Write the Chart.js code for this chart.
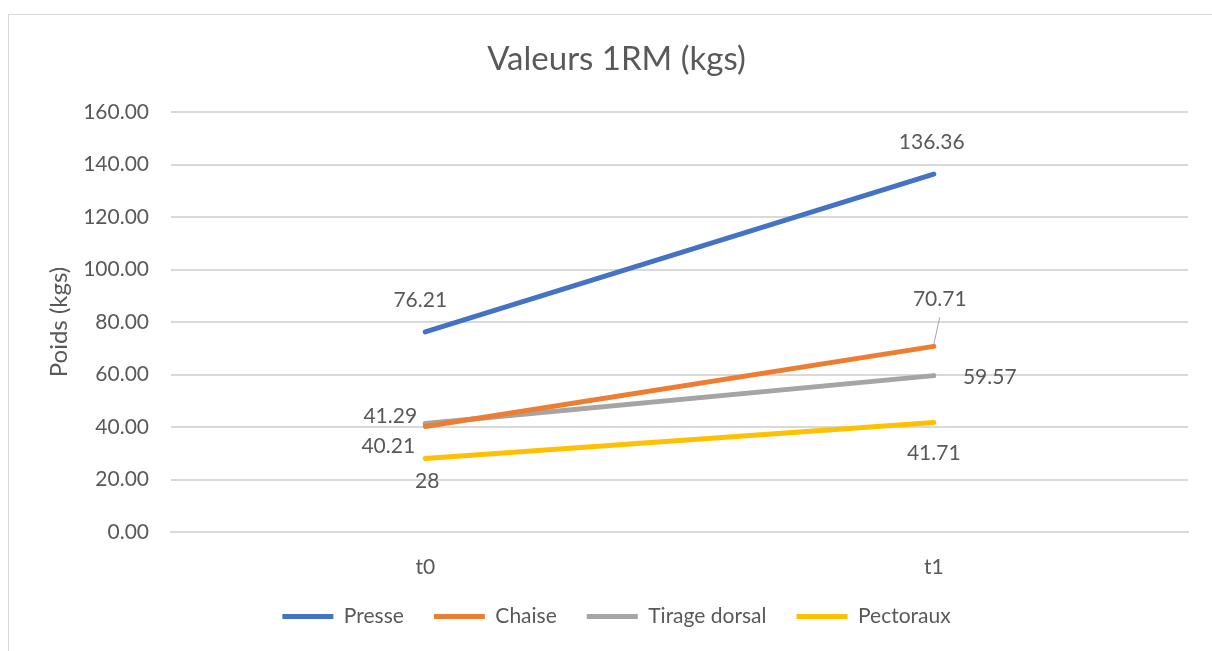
<!DOCTYPE html>
<html>
<head>
<meta charset="utf-8">
<script src="https://cdn.jsdelivr.net/npm/chart.js@4/dist/chart.umd.min.js"></script>
<style>
  html, body { margin: 0; padding: 0; background: #fff; overflow: hidden; }
  #frame { position: absolute; left: 8px; top: 14px; width: 1240px; height: 700px; border: 1px solid #d9d9d9; }
  #wrap { position: absolute; left: 0; top: 0; width: 1212px; height: 651px; }
</style>
</head>
<body>
<div id="frame"></div>
<div id="wrap"><canvas id="chart"></canvas></div>
<script>
// ── données ──
const categories = ['t0', 't1'];
const presse     = [76.21, 136.36];
const chaise     = [40.21, 70.71];
const tirage     = [41.29, 59.57];
const pectoraux  = [28, 41.71];
const seriesNames = ['Presse', 'Chaise', 'Tirage dorsal', 'Pectoraux'];
const yTicks = [0, 20, 40, 60, 80, 100, 120, 140, 160];

const palette = ['#4472c4', '#ed7d31', '#a5a5a5', '#ffc000'];
const FONT = 'Lato, "Liberation Sans", sans-serif';
const TXT = '#595959';

// décalage des étiquettes par point [dx, dy] (+ trait de rappel)
const labelOffsets = [
  [[-5, -32], [-2, -32]],
  [[-37, 20], [6, -47, true]],
  [[-35, -7], [56, 2]],
  [[2, 23], [0, 31]]
];

// étiquettes de données façon Excel
const dataLabels = {
  id: 'dataLabels',
  afterDatasetsDraw(chart) {
    const ctx = chart.ctx;
    ctx.save();
    ctx.font = '21px ' + FONT;
    ctx.fillStyle = TXT;
    ctx.textAlign = 'center';
    ctx.textBaseline = 'middle';
    chart.data.datasets.forEach((ds, i) => {
      chart.getDatasetMeta(i).data.forEach((pt, j) => {
        const off = labelOffsets[i][j];
        const lx = pt.x + off[0], ly = pt.y + off[1];
        if (off[2]) {
          ctx.strokeStyle = '#a6a6a6';
          ctx.lineWidth = 1;
          ctx.beginPath();
          ctx.moveTo(lx, ly + 18);
          ctx.lineTo(pt.x, pt.y - 2);
          ctx.stroke();
        }
        ctx.fillText(String(ds.data[j]), lx, ly);
      });
    });
    ctx.restore();
  }
};

const mk = (name, data, color) => ({
  label: name,
  data,
  borderColor: color,
  backgroundColor: color,
  borderWidth: 5,
  borderCapStyle: 'round',
  pointRadius: 0,
  pointHoverRadius: 0,
  tension: 0
});

new Chart(document.getElementById('chart'), {
  type: 'line',
  data: {
    labels: categories,
    datasets: [
      mk(seriesNames[0], presse, palette[0]),
      mk(seriesNames[1], chaise, palette[1]),
      mk(seriesNames[2], tirage, palette[2]),
      mk(seriesNames[3], pectoraux, palette[3])
    ]
  },
  options: {
    responsive: true,
    maintainAspectRatio: false,
    animation: false,
    layout: { padding: { left: 45, right: 24, top: 0, bottom: 14 } },
    plugins: {
      title: {
        display: true,
        text: 'Valeurs 1RM (kgs)',
        color: TXT,
        font: { family: FONT, size: 33, weight: 'normal' },
        padding: { top: 40, bottom: 32.4 }
      },
      legend: {
        position: 'bottom',
        labels: {
          usePointStyle: true,
          pointStyle: 'line',
          pointStyleWidth: 51,
          color: TXT,
          font: { family: FONT, size: 21 },
          padding: 30
        }
      },
      tooltip: { enabled: false }
    },
    scales: {
      x: {
        offset: true,
        grid: { display: false, drawTicks: false },
        border: { display: true, color: '#d9d9d9', width: 2 },
        ticks: { color: TXT, font: { family: FONT, size: 21 }, padding: 23 },
        afterFit: s => { s.height = 44; }
      },
      y: {
        min: 0,
        max: 160,
        afterBuildTicks: s => { s.ticks = yTicks.map(v => ({ value: v })); },
        grid: { color: '#d9d9d9', lineWidth: 2, drawTicks: false },
        border: { display: false },
        ticks: {
          color: TXT,
          font: { family: FONT, size: 21 },
          padding: 22,
          callback: v => v.toFixed(2)
        },
        title: {
          display: true,
          text: 'Poids (kgs)',
          color: TXT,
          font: { family: FONT, size: 24 },
          padding: 0
        },
        afterFit: s => { s.width = 126; }
      }
    }
  },
  plugins: [dataLabels]
});
</script>
</body>
</html>
